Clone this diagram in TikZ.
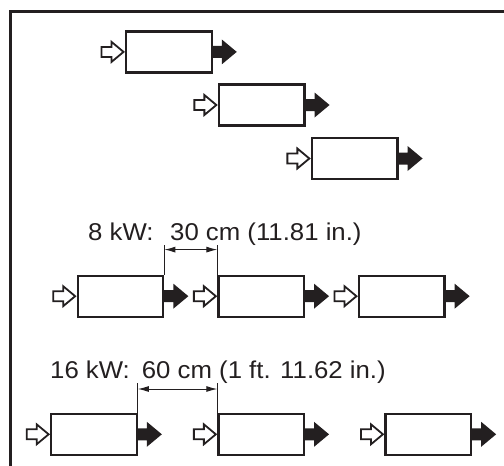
\documentclass[tikz,border=0pt]{standalone}
\usepackage{fontspec}
\setmainfont{Liberation Sans}
\newfontfamily\lblfont{Liberation Sans}[FakeStretch=1.06]
\usetikzlibrary{arrows.meta}
\definecolor{ink}{HTML}{231F20}
\begin{document}
\begin{tikzpicture}[x=1pt,y=1pt,
  unitbox/.style={draw=ink,line width=2.2pt,fill=white,minimum width=85.5pt,minimum height=41pt,inner sep=0pt},
  inarrow/.pic={\draw[ink,line width=1.8pt,fill=white,line join=miter] (0,0) -- (-12,10) -- (-12,5) -- (-22,5) -- (-22,-5) -- (-12,-5) -- (-12,-10) -- cycle;},
  outarrow/.pic={\fill[ink] (-1,6) -- (9,6) -- (9,12.5) -- (24,0) -- (9,-12.5) -- (9,-6) -- (-1,-6) -- cycle;},
  dimline/.style={draw=ink,line width=1pt},
  dimarrow/.style={dimline,{Latex[length=11pt,width=6pt]}-{Latex[length=11pt,width=6pt]}},
  lbl/.style={anchor=base west,inner sep=0pt,text=ink,font=\lblfont\fontsize{24.3}{28}\selectfont}
]
\useasboundingbox (0,0) rectangle (504,-466);
\draw[ink,line width=2.7pt,line join=miter] (10.7,-466) -- (10.7,-11.3) -- (504,-11.3);

% top staggered row
\node[unitbox] (a1) at (168.9,-51.9) {};
\node[unitbox] (a2) at (261.7,-105) {};
\node[unitbox] (a3) at (354.7,-158.5) {};
% 8 kW row
\node[unitbox] (b1) at (120.5,-296.2) {};
\node[unitbox] (b2) at (261.2,-296.2) {};
\node[unitbox] (b3) at (401.8,-296.2) {};
% 16 kW row
\node[unitbox] (c1) at (94,-434.3) {};
\node[unitbox] (c2) at (261.2,-434.3) {};
\node[unitbox] (c3) at (428.3,-434.3) {};

\foreach \n in {a1,a2,a3,b1,b2,b3,c1,c2,c3}{
  \pic at ([xshift=-1.5pt]\n.west) {inarrow};
  \pic at (\n.east) {outarrow};
}

% 8 kW dimension
\coordinate (e1) at ([yshift=30pt]b1.north east);
\coordinate (e2) at ([yshift=30pt]b2.north west);
\coordinate (m1) at ([yshift=25pt]b1.north east);
\coordinate (m2) at ([yshift=25pt]b2.north west);
\draw[dimline] (b1.north east) -- (e1);
\draw[dimline] (b2.north west) -- (e2);
\draw[dimarrow] (m1) -- (m2);
\node[lbl] (t1a) at (88,-240.7) {8 kW:};
\node[lbl] (t1b) at (170,-240.7) {30 cm (11.81 in.)};

% 16 kW dimension
\coordinate (f1) at ([yshift=30pt]c1.north east);
\coordinate (f2) at ([yshift=30pt]c2.north west);
\coordinate (n1) at ([yshift=23.7pt]c1.north east);
\coordinate (n2) at ([yshift=23.7pt]c2.north west);
\draw[dimline] (c1.north east) -- (f1);
\draw[dimline] (c2.north west) -- (f2);
\draw[dimarrow] (n1) -- (n2);
\node[lbl] (t2a) at (50,-378.3) {16 kW:};
\node[lbl] (t2b) at (141.7,-378.3) {60 cm (1 ft. 11.62 in.)};
\end{tikzpicture}
\end{document}
